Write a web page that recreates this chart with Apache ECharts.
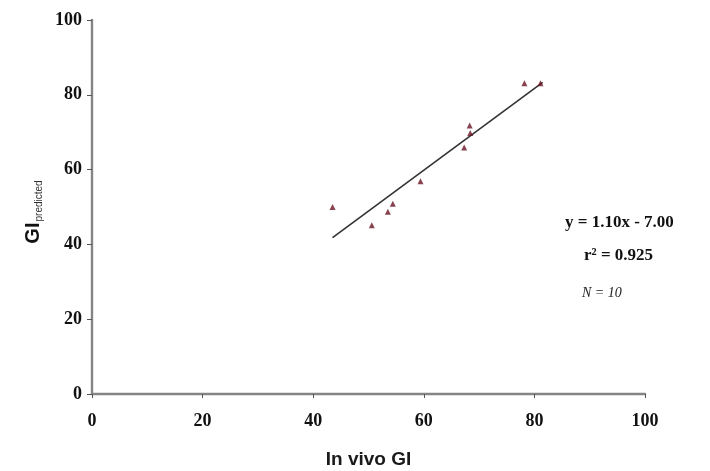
<!DOCTYPE html>
<html>
<head>
<meta charset="utf-8">
<script src="https://cdn.jsdelivr.net/npm/echarts@6/dist/echarts.min.js"></script>
<style>
  html, body { margin: 0; padding: 0; background: #ffffff; }
  #main { width: 710px; height: 471px; }
</style>
</head>
<body>
<div id="main"></div>
<script>
// measured points (in vivo GI, predicted GI)
var inVivo = [43.5, 50.6, 53.5, 54.4, 59.4, 67.3, 68.3, 68.4, 78.2, 81.1]
var predicted = [50.0, 45.1, 48.7, 50.9, 56.9, 65.9, 71.8, 69.8, 83.1, 83.1]
// fitted line ends
var fitX = [43.5, 81.5]
var fitY = [41.8, 83.3]
var axisTicks = [0, 20, 40, 60, 80, 100]
var fitText = ['y = 1.10x - 7.00', 'r\u00b2 = 0.925', 'N = 10']

var points = []
for (var i = 0; i < inVivo.length; i++) {
  points.push([inVivo[i], predicted[i]])
}
var fitLine = []
for (var j = 0; j < fitX.length; j++) {
  fitLine.push([fitX[j], fitY[j]])
}

var chart = echarts.init(document.getElementById('main'))
var labelStyle = {
  color: '#111',
  fontFamily: 'Liberation Serif',
  fontWeight: 'bold',
  fontSize: 18
}
chart.setOption({
  animation: false,
  backgroundColor: '#ffffff',
  grid: { left: 92, right: 65, top: 20, bottom: 77, outerBoundsMode: 'none' },
  xAxis: {
    type: 'value',
    min: axisTicks[0],
    max: axisTicks[axisTicks.length - 1],
    interval: 20,
    splitLine: { show: false },
    axisLine: { lineStyle: { color: '#858585', width: 2.4 } },
    axisTick: { length: 4, lineStyle: { color: '#555', width: 1 } },
    axisLabel: Object.assign({ margin: 18 }, labelStyle),
    name: 'In vivo GI',
    nameLocation: 'middle',
    nameGap: 56,
    nameTextStyle: {
      color: '#1a1a1a',
      fontFamily: '"Liberation Sans", Arial, sans-serif',
      fontWeight: 'bold',
      fontSize: 19
    }
  },
  yAxis: {
    type: 'value',
    min: axisTicks[0],
    max: axisTicks[axisTicks.length - 1],
    interval: 20,
    splitLine: { show: false },
    axisLine: { show: true, lineStyle: { color: '#858585', width: 2.4 } },
    axisTick: { show: true, length: 5, lineStyle: { color: '#555', width: 1 } },
    axisLabel: Object.assign({ margin: 10 }, labelStyle),
    name: '{a|GI}{b|predicted}',
    nameLocation: 'middle',
    nameRotate: 90,
    nameGap: 44,
    nameTextStyle: {
      padding: [0, 10, 0, 0],
      rich: {
        a: {
          fontFamily: 'Liberation Sans',
          fontWeight: 'bold',
          fontSize: 20,
          color: '#111',
          lineHeight: 22
        },
        b: {
          fontFamily: 'Liberation Sans',
          fontSize: 10,
          color: '#333',
          verticalAlign: 'bottom',
          lineHeight: 22,
          padding: [10, 0, 0, 1]
        }
      }
    }
  },
  series: [
    {
      type: 'line',
      data: fitLine,
      symbol: 'none',
      lineStyle: { color: '#333', width: 1.6 },
      z: 2
    },
    {
      type: 'scatter',
      data: points,
      symbol: 'triangle',
      symbolSize: 6,
      itemStyle: { color: '#6b1424' },
      z: 3
    }
  ],
  graphic: [
    {
      type: 'text',
      left: 565,
      top: 214,
      style: {
        text: fitText[0],
        fill: '#111',
        font: 'bold 17px "Liberation Serif"'
      }
    },
    {
      type: 'text',
      left: 584,
      top: 247,
      style: {
        text: fitText[1],
        fill: '#111',
        font: 'bold 17px "Liberation Serif"'
      }
    },
    {
      type: 'text',
      left: 582,
      top: 286,
      style: {
        text: fitText[2],
        fill: '#222',
        font: 'italic 14px "Liberation Serif"'
      }
    }
  ]
})
</script>
</body>
</html>
